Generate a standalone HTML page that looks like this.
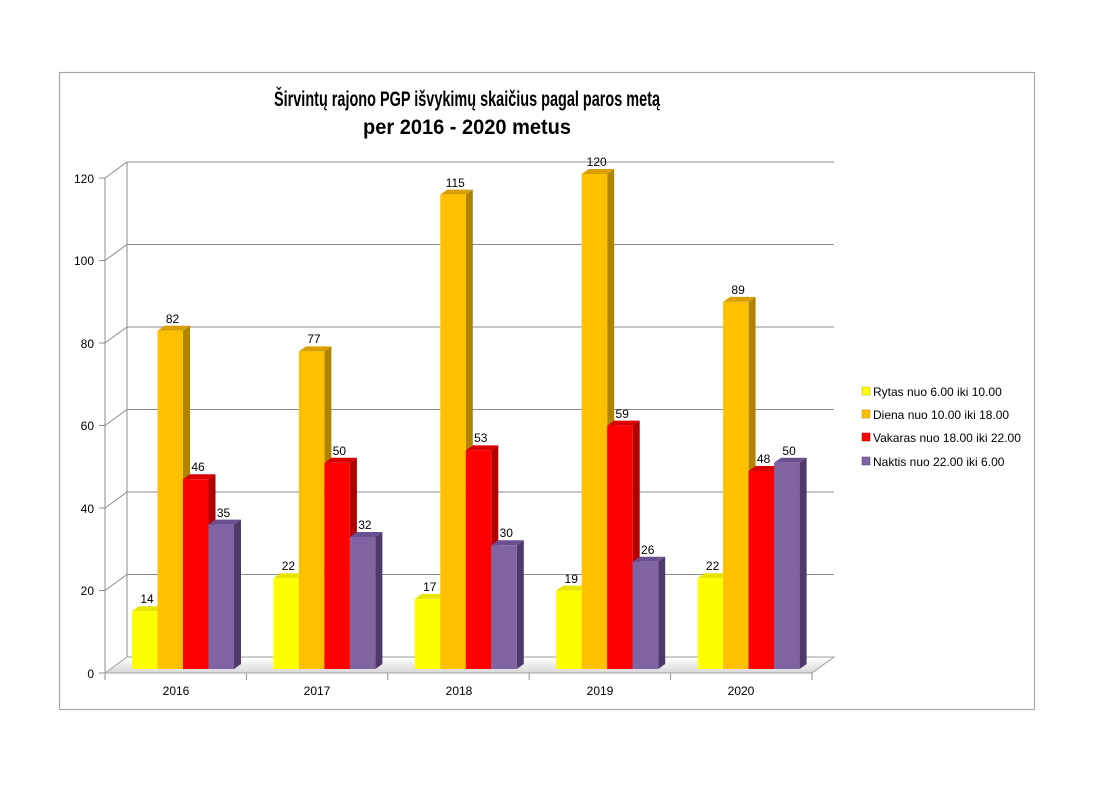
<!DOCTYPE html>
<html><head><meta charset="utf-8"><style>
body{margin:0;background:#fff;}
svg{display:block;font-family:"Liberation Sans",sans-serif;}
</style></head><body>
<svg id="s" width="1112" height="794" viewBox="0 0 1112 794" xmlns="http://www.w3.org/2000/svg">
<defs>
<linearGradient id="floor" x1="0" y1="0" x2="0" y2="1"><stop offset="0" stop-color="#fff"/><stop offset="1" stop-color="#d8d8d8"/></linearGradient>
</defs>
<rect x="59.5" y="72.5" width="975" height="637" fill="#fff" stroke="#a6a6a6" stroke-width="1.2"/>
<g id="grid" stroke="#8c8c8c" stroke-width="1" fill="none"></g>
<polygon points="105,673 812,673 834,657 127,657" fill="url(#floor)" stroke="#a0a0a0"/>
<g id="bars"></g>
<g font-size="12" fill="#000" text-anchor="end">
<text x="94" y="678">0</text><text x="94" y="595">20</text><text x="94" y="513">40</text><text x="94" y="430">60</text><text x="94" y="348">80</text><text x="94" y="265">100</text><text x="94" y="183">120</text>
</g>
<g font-size="12" text-anchor="middle">
<text x="176" y="695">2016</text><text x="317" y="695">2017</text><text x="459" y="695">2018</text><text x="600" y="695">2019</text><text x="741" y="695">2020</text>
</g>
<g font-size="12" text-anchor="middle">
<text x="147" y="603">14</text><text x="172.5" y="323">82</text><text x="198" y="471">46</text><text x="223.5" y="517">35</text>
<text x="288.4" y="570">22</text><text x="313.9" y="343">77</text><text x="339.4" y="455">50</text><text x="364.9" y="529">32</text>
<text x="429.8" y="591">17</text><text x="455.3" y="187">115</text><text x="480.8" y="442">53</text><text x="506.3" y="537">30</text>
<text x="571.2" y="583">19</text><text x="596.7" y="166">120</text><text x="622.2" y="418">59</text><text x="647.7" y="554">26</text>
<text x="712.6" y="570">22</text><text x="738.1" y="294">89</text><text x="763.6" y="463">48</text><text x="789.1" y="455">50</text>
</g>
<g font-weight="bold" font-size="21" text-anchor="middle">
<text x="467" y="106" textLength="386" lengthAdjust="spacingAndGlyphs">Širvintų rajono PGP išvykimų skaičius pagal paros metą</text>
<text x="467" y="134" textLength="208" lengthAdjust="spacingAndGlyphs">per 2016 - 2020 metus</text>
</g>
<g font-size="12">
<rect x="862" y="387" width="8" height="8" fill="#ffff00" stroke="#b0b000" stroke-width=".5"/><text x="873" y="396">Rytas nuo 6.00 iki 10.00</text>
<rect x="862" y="410" width="8" height="8" fill="#ffc000" stroke="#b08000" stroke-width=".5"/><text x="873" y="419">Diena nuo 10.00 iki 18.00</text>
<rect x="862" y="433" width="8" height="8" fill="#ff0000" stroke="#a00000" stroke-width=".5"/><text x="873" y="442">Vakaras nuo 18.00 iki 22.00</text>
<rect x="862" y="457" width="8" height="8" fill="#8064a2" stroke="#503c70" stroke-width=".5"/><text x="873" y="466">Naktis nuo 22.00 iki 6.00</text>
</g>
</svg>
<script>
var NS="http://www.w3.org/2000/svg";
function el(p,t,a){var e=document.createElementNS(NS,t);for(var k in a)e.setAttribute(k,a[k]);p.appendChild(e);return e;}
var g=document.getElementById('grid');
for(var v=20;v<=120;v+=20){var yf=673-v*4.125,yb=yf-16;
el(g,'polyline',{points:"105,"+yf+" 127,"+yb+" 834,"+yb});
el(g,'line',{x1:99,y1:yf,x2:105,y2:yf});}
el(g,'line',{x1:105,y1:178,x2:105,y2:673});
el(g,'line',{x1:99,y1:673,x2:105,y2:673});
el(g,'line',{x1:127,y1:162,x2:127,y2:657});
for(var i=0;i<=5;i++){var x=105+i*141.4;el(g,'line',{x1:x,y1:673,x2:x,y2:680});}
var data=[[14,82,46,35],[22,77,50,32],[17,115,53,30],[19,120,59,26],[22,89,48,50]];
var cols=[["#ffff00","#c8c800","#e6e600"],["#ffc000","#b08400","#d9a000"],["#ff0000","#b00000","#d80000"],["#8064a2","#4e3a6a","#6a5090"]];
var b=document.getElementById('bars');
data.forEach(function(d,gi){d.forEach(function(v,i){
var x=132+gi*141.4+i*25.5,w=25.5,base=669,top=base-v*4.125,dx=7,dy=5,c=cols[i];
el(b,'polygon',{points:(x+w)+","+base+" "+(x+w+dx)+","+(base-dy)+" "+(x+w+dx)+","+(top-dy)+" "+(x+w)+","+top,fill:c[1]});
el(b,'polygon',{points:x+","+top+" "+(x+dx)+","+(top-dy)+" "+(x+w+dx)+","+(top-dy)+" "+(x+w)+","+top,fill:c[2]});
el(b,'rect',{x:x,y:top,width:w,height:base-top,fill:c[0]});
});});
</script>
</body></html>
